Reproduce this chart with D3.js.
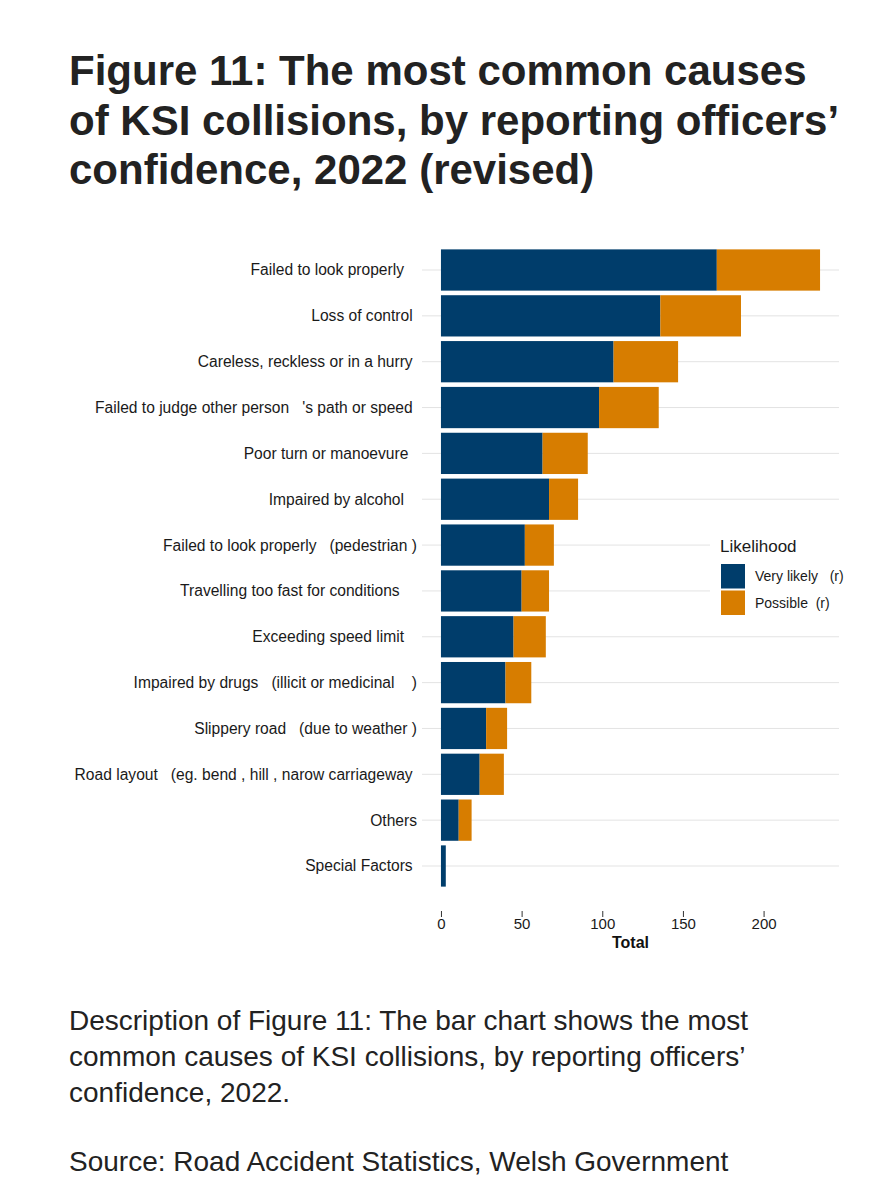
<!DOCTYPE html>
<html>
<head>
<meta charset="utf-8">
<script src="https://cdn.jsdelivr.net/npm/d3@7"></script>
<style>
  html, body { margin: 0; padding: 0; background: #fff; }
  svg text { font-family: "Liberation Sans", Arial, Helvetica, sans-serif; white-space: pre; }
</style>
</head>
<body>
<svg id="chart" width="879" height="1200"></svg>
<script>
// ---- Data ----
const titleLines = [
  "Figure 11: The most common causes",
  "of KSI collisions, by reporting officers\u2019",
  "confidence, 2022 (revised)"
];
const categories = [
  "Failed to look properly   ",
  "Loss of control ",
  "Careless, reckless or in a hurry ",
  "Failed to judge other person   's path or speed ",
  "Poor turn or manoevure  ",
  "Impaired by alcohol   ",
  "Failed to look properly   (pedestrian )",
  "Travelling too fast for conditions    ",
  "Exceeding speed limit   ",
  "Impaired by drugs   (illicit or medicinal    )",
  "Slippery road   (due to weather )",
  "Road layout   (eg. bend , hill , narow carriageway ",
  "Others",
  "Special Factors "
];
const veryLikely = [171, 136, 107, 98, 63, 67, 52, 50, 45, 40, 28, 24, 11, 3];
const possible   = [64, 50, 40, 37, 28, 18, 18, 17, 20, 16, 13, 15, 8, 0];
const seriesNames = ["Very likely   (r)", "Possible  (r)"];
const seriesColors = ["#003D6B", "#D77D00"];
const xTicks = [0, 50, 100, 150, 200];
const xTitle = "Total";
const legendTitle = "Likelihood";
const descLines = [
  "Description of Figure 11: The bar chart shows the most",
  "common causes of KSI collisions, by reporting officers\u2019",
  "confidence, 2022."
];
const sourceLine = "Source: Road Accident Statistics, Welsh Government";

// ---- Layout ----
const svg = d3.select("#chart");
const panel = { left: 422, right: 839, top: 242.5, bottom: 893.5 };

// Title
svg.append("g").selectAll("text").data(titleLines).join("text")
  .attr("x", 69).attr("y", (d, i) => 85 + i * 49.5)
  .attr("font-size", 42).attr("font-weight", "bold").attr("fill", "#222")
  .text(d => d);

// Scales
const totals = veryLikely.map((v, i) => v + possible[i]);
const maxTotal = d3.max(totals);
const expand = maxTotal * 0.05;
const x = d3.scaleLinear().domain([-expand, maxTotal + expand]).range([panel.left, panel.right]);
const y = d3.scaleBand().domain(categories).range([panel.top, panel.bottom])
  .paddingInner(0.1).paddingOuter(0.15);

// Gridlines
svg.append("g").selectAll("line").data(categories).join("line")
  .attr("x1", panel.left).attr("x2", panel.right)
  .attr("y1", d => y(d) + y.bandwidth() / 2).attr("y2", d => y(d) + y.bandwidth() / 2)
  .attr("stroke", "#e3e3e3").attr("stroke-width", 1);

// Stacked bars
const rows = categories.map((c, i) => ({ cat: c, v: veryLikely[i], p: possible[i] }));
const stack = d3.stack().keys(["v", "p"])(rows);
svg.append("g").selectAll("g").data(stack).join("g")
  .attr("fill", (d, i) => seriesColors[i])
  .selectAll("rect").data(d => d).join("rect")
  .attr("x", d => x(d[0]))
  .attr("width", d => Math.max(0, x(d[1]) - x(d[0])))
  .attr("y", d => y(d.data.cat))
  .attr("height", y.bandwidth());

// Y labels
svg.append("g").selectAll("text").data(categories).join("text")
  .attr("x", 417).attr("y", d => y(d) + y.bandwidth() / 2)
  .attr("dy", "0.35em").attr("text-anchor", "end")
  .attr("font-size", 15.6).attr("fill", "#1a1a1a")
  .text(d => d);

// X axis
const xAxis = svg.append("g").attr("transform", "translate(0,911)")
  .call(d3.axisBottom(x).tickValues(xTicks).tickSize(6).tickPadding(1));
xAxis.select(".domain").remove();
xAxis.selectAll(".tick line").attr("stroke", "#333");
xAxis.selectAll(".tick text").attr("font-size", 15).attr("fill", "#1a1a1a")
  .style("font-family", "'Liberation Sans', Arial, sans-serif");

svg.append("text").attr("x", x(maxTotal / 2)).attr("y", 948)
  .attr("text-anchor", "middle").attr("font-size", 16).attr("font-weight", "bold")
  .attr("fill", "#111").text(xTitle);

// Legend
const lg = svg.append("g");
lg.append("rect").attr("x", 710).attr("y", 522).attr("width", 169).attr("height", 103).attr("fill", "#fff");
lg.append("text").attr("x", 720).attr("y", 552).attr("font-size", 17).attr("fill", "#1a1a1a").text(legendTitle);
const items = lg.selectAll("g.item").data(seriesNames).join("g").attr("class", "item")
  .attr("transform", (d, i) => `translate(721,${564 + i * 26.5})`);
items.append("rect").attr("width", 24).attr("height", 24.5).attr("fill", (d, i) => seriesColors[i]);
items.append("text").attr("x", 34).attr("y", 12.5).attr("dy", "0.35em")
  .attr("font-size", 14).attr("fill", "#1a1a1a").text(d => d);

// Description and source
svg.append("g").selectAll("text").data(descLines).join("text")
  .attr("x", 69).attr("y", (d, i) => 1029.5 + i * 36.2)
  .attr("font-size", 28).attr("fill", "#222").text(d => d);
svg.append("text").attr("x", 69).attr("y", 1171).attr("font-size", 28).attr("fill", "#222").text(sourceLine);
</script>
</body>
</html>
